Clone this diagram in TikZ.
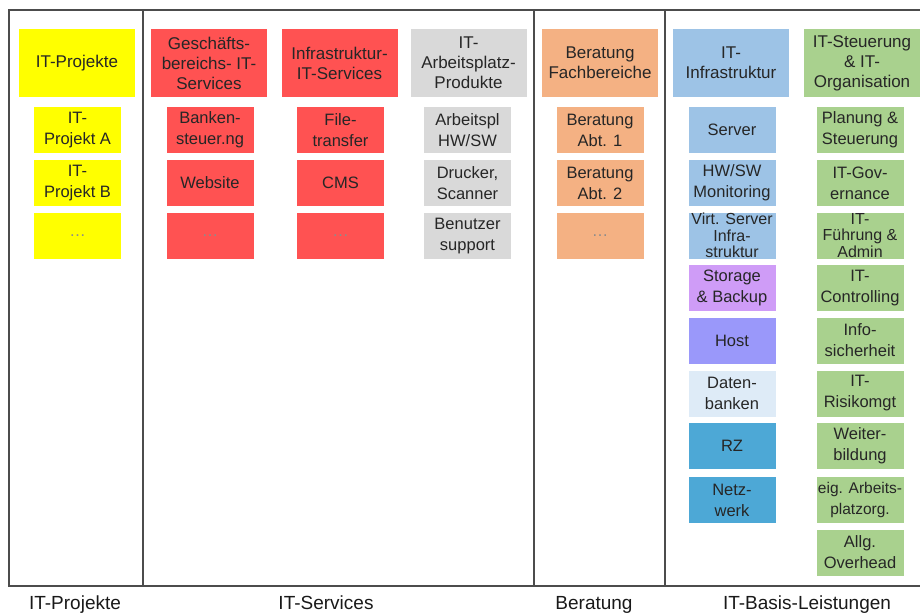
\documentclass[tikz,border=0pt]{standalone}
\usepackage{fontspec}
\setmainfont{Liberation Sans}
\definecolor{cyel}{HTML}{FFFF00}
\definecolor{cred}{HTML}{FF5252}
\definecolor{cgray}{HTML}{D9D9D9}
\definecolor{corange}{HTML}{F4B183}
\definecolor{clblue}{HTML}{9DC3E6}
\definecolor{cgreen}{HTML}{A9D18E}
\definecolor{clilac}{HTML}{CF9CF7}
\definecolor{chost}{HTML}{9A98FA}
\definecolor{cdb}{HTML}{DEEBF7}
\definecolor{crz}{HTML}{4DA8D6}
\begin{document}
\begin{tikzpicture}[x=1pt,y=-1pt,
 box/.style={inner sep=0pt, align=center, text=black!85},
 hdr/.style={box, minimum width=116pt, minimum height=68pt, font=\fontsize{17}{20}\selectfont},
 sm/.style={box, minimum width=87pt, minimum height=46pt, font=\fontsize{16.5}{21}\selectfont},
 tri/.style={font=\fontsize{16}{16.5}\selectfont},
 dots/.style={text=black!45},
 frameline/.style={draw=black!70, line width=1.1pt},
 lbl/.style={font=\fontsize{19}{22}\selectfont, text=black!90, inner sep=0pt, anchor=base}]
\useasboundingbox (0,0) rectangle (920,614);

% frame
\coordinate (tl) at (9,10);
\coordinate (tr) at (921,10);
\coordinate (bl) at (9,586);
\coordinate (br) at (921,586);
\draw[frameline] (tr) -- (tl) -- (bl) -- (br);
\foreach \x/\n in {143/a,534/b,665/c}{
  \coordinate (d\n t) at (\x,10);
  \coordinate (d\n b) at (\x,586);
  \draw[frameline] (d\n t) -- (d\n b);
}

% headers
\node[hdr, fill=cyel] (hp) at (77,63) {IT-Projekte};
\node[hdr, fill=cred] (hg) at (209,63) {Geschäfts-\\bereichs- IT-\\Services};
\node[hdr, fill=cred] (hi) at (339.5,63) {Infrastruktur-\\IT-Services};
\node[hdr, fill=cgray] (ha) at (468.5,63) {IT-\\Arbeitsplatz-\\Produkte};
\node[hdr, fill=corange] (hb) at (600,63) {Beratung\\Fachbereiche};
\node[hdr, fill=clblue] (hf) at (731,63) {IT-\\Infrastruktur};
\node[hdr, fill=cgreen] (hs) at (862,63) {IT-Steuerung\\\& IT-\\Organisation};

% IT-Projekte
\node[sm, fill=cyel] (p1) at (77.5,130) {IT-\\Projekt A};
\node[sm, fill=cyel] (p2) at (77.5,183) {IT-\\Projekt B};
\node[sm, fill=cyel, dots] (p3) at (77.5,236) {…};

% Geschaeftsbereichs
\node[sm, fill=cred] (g1) at (210,130) {Banken-\\steuer.ng};
\node[sm, fill=cred] (g2) at (210,183) {Website};
\node[sm, fill=cred, dots] (g3) at (210,236) {…};

% Infrastruktur
\node[sm, fill=cred] (i1) at (340.5,130) {File-\\transfer};
\node[sm, fill=cred] (i2) at (340.5,183) {CMS};
\node[sm, fill=cred, dots] (i3) at (340.5,236) {…};

% Arbeitsplatz
\node[sm, fill=cgray] (a1) at (467.5,130) {Arbeitspl\\HW/SW};
\node[sm, fill=cgray] (a2) at (467.5,183) {Drucker,\\Scanner};
\node[sm, fill=cgray] (a3) at (467.5,236) {Benutzer\\support};

% Beratung
\node[sm, fill=corange] (b1) at (600,130) {Beratung\\Abt. 1};
\node[sm, fill=corange] (b2) at (600,183) {Beratung\\Abt. 2};
\node[sm, fill=corange, dots] (b3) at (600,236) {…};

% IT-Infrastruktur
\node[sm, fill=clblue] (f1) at (732,130) {Server};
\node[sm, fill=clblue] (f2) at (732,183) {HW/SW\\Monitoring};
\node[sm, fill=clblue, tri] (f3) at (732,235.5) {Virt. Server\\Infra-\\struktur};
\node[sm, fill=clilac] (f4) at (732,288) {Storage\\\& Backup};
\node[sm, fill=chost] (f5) at (732,340.5) {Host};
\node[sm, fill=cdb] (f6) at (732,393.5) {Daten-\\banken};
\node[sm, fill=crz] (f7) at (732,446) {RZ};
\node[sm, fill=crz] (f8) at (732,500) {Netz-\\werk};

% IT-Steuerung
\node[sm, fill=cgreen] (s1) at (860,130) {Planung \&\\Steuerung};
\node[sm, fill=cgreen] (s2) at (860,183) {IT-Gov-\\ernance};
\node[sm, fill=cgreen, tri] (s3) at (860,235.5) {IT-\\Führung \&\\Admin};
\node[sm, fill=cgreen] (s4) at (860,288) {IT-\\Controlling};
\node[sm, fill=cgreen] (s5) at (860,340.5) {Info-\\sicherheit};
\node[sm, fill=cgreen] (s6) at (860,393.5) {IT-\\Risikomgt};
\node[sm, fill=cgreen] (s7) at (860,446) {Weiter-\\bildung};
\node[sm, fill=cgreen, font=\fontsize{15.5}{21}\selectfont] (s8) at (860,500) {eig. Arbeits-\\platzorg.};
\node[sm, fill=cgreen] (s9) at (860,552.5) {Allg.\\Overhead};

% bottom labels
\node[lbl] (l1) at (75,609) {IT-Projekte};
\node[lbl] (l2) at (326,609) {IT-Services};
\node[lbl] (l3) at (594,609) {Beratung};
\node[lbl] (l4) at (807,609) {IT-Basis-Leistungen};
\end{tikzpicture}
\end{document}
